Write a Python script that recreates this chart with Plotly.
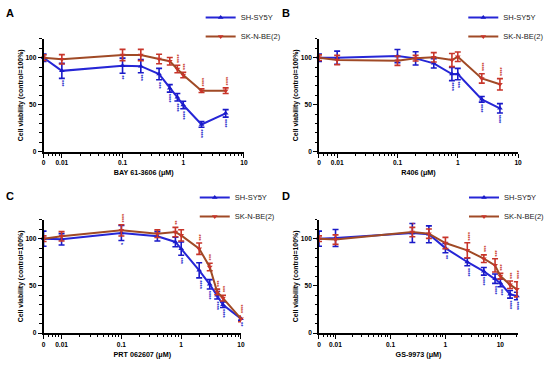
import math
import plotly.graph_objects as go

# ---------------- data ----------------
ZERO_POS = 0.005  # dose 0 is drawn at this position of the log axis

# Panel A : BAY 61-3606
A_doses = [0, 0.01, 0.1, 0.2, 0.4, 0.6, 0.8, 1, 2, 5]
A_sh_mean = [100, 86, 91.5, 91, 82.6, 67.4, 57.9, 49.7, 29, 40.8]
A_sh_sem = [4, 8, 8, 7, 6, 4, 4, 4, 3, 4]
A_be_mean = [100, 98.3, 102.9, 102.9, 98.6, 96.2, 88, 81.6, 64.9, 64.9]
A_be_sem = [3, 5, 6, 6, 5, 4, 4, 3, 2, 3]
A_sh_sig = ["", "***", "**", "***", "***", "****", "****", "****", "****", "****"]
A_be_sig = ["", "", "", "", "", "", "****", "***", "****", "****"]

# Panel B : R406
B_doses = [0, 0.01, 0.1, 0.2, 0.4, 0.8, 1, 2.5, 5]
B_sh_mean = [100, 100, 101.8, 99.3, 94, 82.6, 82.6, 55.7, 46.1]
B_sh_sem = [4, 7, 7, 7, 5, 7, 6, 3, 5]
B_be_mean = [100, 97.5, 96.8, 99.5, 100.4, 97.5, 101, 78, 71.7]
B_be_sem = [3, 5, 5, 3, 5, 7, 5, 5, 6]
B_sh_sig = ["", "", "", "", "", "****", "***", "****", "****"]
B_be_sig = ["", "", "", "", "", "", "", "****", "****"]

# Panel C : PRT 062607
C_doses = [0, 0.01, 0.1, 0.4, 0.8, 1, 2, 3, 4, 5, 10]
C_sh_mean = [100, 99.3, 106, 102.5, 96.5, 89.4, 66.4, 51.6, 40, 30, 15.2]
C_sh_sem = [8, 6, 8, 5, 5, 7, 8, 5, 4, 3, 2]
C_be_mean = [100, 102.5, 108.8, 105.3, 107, 103.5, 89.4, 70, 43.5, 37, 15]
C_be_sem = [3, 5, 6, 4, 5, 6, 6, 4, 3, 3, 3]
C_sh_sig = ["", "", "*", "", "", "***", "****", "****", "****", "****", "**"]
C_be_sig = ["", "", "****", "", "**", "", "***", "***", "***", "***", "****"]

# Panel D : GS-9973
D_doses = [0, 0.01, 0.25, 0.5, 1, 2.5, 5, 8, 10, 15, 20]
D_sh_mean = [100, 100.7, 106, 104.6, 90, 75.3, 65.4, 57.6, 53, 41, 39.2]
D_sh_sem = [8, 9, 10, 9, 5, 4, 4, 5, 4, 4, 4]
D_be_mean = [100, 99, 107, 105.3, 95.4, 87.6, 78.8, 71.7, 60.4, 51.2, 46.3]
D_be_sem = [3, 5, 5, 5, 6, 8, 4, 7, 3, 4, 8]
D_sh_sig = ["", "", "", "", "**", "****", "****", "****", "***", "****", "****"]
D_be_sig = ["", "", "*", "", "", "****", "***", "***", "***", "***", "****"]

SERIES = ["SH-SY5Y", "SK-N-BE(2)"]
X_TICK_VALS = [ZERO_POS, 0.01, 0.1, 1, 10]
X_TICK_TEXT = ["0", "0.01", "0.1", "1", "10"]
X_MINOR = [0.006, 0.007, 0.008, 0.009] + [k * 0.01 for k in range(2, 10)] + \
          [k * 0.1 for k in range(2, 10)] + [k * 1.0 for k in range(2, 10)] + [20]
Y_TICKS = [0, 50, 100]

# ---------------- styling ----------------
W, H = 550, 365
FONT = "Arial, Liberation Sans, sans-serif"
BLUE_LINE = "#2626d6"
BLUE_ERR = "#1a1ac8"
RED_LINE = "#a04a26"
RED_ERR = "#c8352a"


def px(x):
    return x / W


def py(y):
    return 1 - y / H


panels = [
    dict(letter="A", doses=A_doses, sh=(A_sh_mean, A_sh_sem, A_sh_sig), be=(A_be_mean, A_be_sem, A_be_sig),
         xtitle="BAY 61-3606 (μM)", xpx=(44.3, 248), ypx=(151.7, 38.9), xmax=10,
         letter_pos=(10, 13), legend_pos=(204, 3)),
    dict(letter="B", doses=B_doses, sh=(B_sh_mean, B_sh_sem, B_sh_sig), be=(B_be_mean, B_be_sem, B_be_sig),
         xtitle="R406 (μM)", xpx=(324.3, 526.7), ypx=(151.7, 38.9), xmax=10,
         letter_pos=(291, 13), legend_pos=(471, 3)),
    dict(letter="C", doses=C_doses, sh=(C_sh_mean, C_sh_sem, C_sh_sig), be=(C_be_mean, C_be_sem, C_be_sig),
         xtitle="PRT 062607 (μM)", xpx=(44.3, 245), ypx=(333, 219.8), xmax=10,
         letter_pos=(10, 196), legend_pos=(198, 183)),
    dict(letter="D", doses=D_doses, sh=(D_sh_mean, D_sh_sem, D_sh_sig), be=(D_be_mean, D_be_sem, D_be_sig),
         xtitle="GS-9973 (μM)", xpx=(324.3, 526.7), ypx=(333, 219.8), xmax=21,
         letter_pos=(291, 196), legend_pos=(472, 183)),
]

fig = go.Figure()
annotations = []
layout = {}

for i, p in enumerate(panels, start=1):
    xa = "x" if i == 1 else f"x{i}"
    ya = "y" if i == 1 else f"y{i}"
    leg = "legend" if i == 1 else f"legend{i}"
    xs = [ZERO_POS if d == 0 else d for d in p["doses"]]

    for name, (mean, sem, sig), lc, ec, sym, above in [
        (SERIES[0], p["sh"], BLUE_LINE, BLUE_ERR, "triangle-up", False),
        (SERIES[1], p["be"], RED_LINE, RED_ERR, "triangle-down", True),
    ]:
        fig.add_trace(go.Scatter(
            x=xs, y=mean, name=name, mode="lines+markers",
            xaxis=xa, yaxis=ya, legend=leg,
            line=dict(color=lc, width=2),
            marker=dict(symbol=sym, size=5, color=ec),
            error_y=dict(type="data", array=sem, visible=True, color=ec, thickness=1.6, width=3),
            cliponaxis=False,
        ))
        for xv, m, s, t in zip(xs, mean, sem, sig):
            if not t:
                continue
            annotations.append(dict(
                x=math.log10(xv), y=(m + s) if above else (m - s),
                xref=xa, yref=ya, text="<b>%s</b>" % t, textangle=90, showarrow=False,
                yanchor="bottom" if above else "top",
                yshift=1 if above else -1,
                font=dict(family=FONT, size=5.5, color=ec),
                borderpad=0,
            ))

    x0, x1 = p["xpx"]
    yb, yt = p["ypx"]
    axis_common = dict(
        showline=True, linecolor="black", linewidth=1.6, ticks="outside",
        ticklen=4, tickwidth=1.4, tickcolor="black", showgrid=False, zeroline=False,
        automargin=False,
        tickfont=dict(family=FONT, size=6.6, color="black"),
    )
    layout["xaxis" if i == 1 else f"xaxis{i}"] = dict(
        axis_common, type="log", domain=[px(x0), px(x1)],
        range=[math.log10(ZERO_POS), math.log10(p["xmax"])],
        anchor=ya, tickmode="array", tickvals=X_TICK_VALS,
        ticktext=["<b>%s</b>" % t for t in X_TICK_TEXT],
        minor=dict(tickmode="array", tickvals=X_MINOR, ticklen=2.5, tickwidth=1, tickcolor="black", ticks="outside"),
        title=dict(text="<b>%s</b>" % p["xtitle"], font=dict(family=FONT, size=7.2, color="black"), standoff=5),
    )
    layout["yaxis" if i == 1 else f"yaxis{i}"] = dict(
        axis_common, domain=[py(yb), py(yt)], range=[0, 120], anchor=xa,
        tickmode="array", tickvals=Y_TICKS, ticktext=["<b>%d</b>" % v for v in Y_TICKS],
        minor=dict(dtick=10, ticklen=2.5, tickwidth=1, tickcolor="black", ticks="outside"),
        title=dict(text="<b>Cell viability (control=100%)</b>", font=dict(family=FONT, size=6.9, color="black"), standoff=1),
    )
    lx, ly = p["legend_pos"]
    layout[leg] = dict(
        x=px(lx), y=py(ly), xanchor="left", yanchor="top",
        bgcolor="rgba(0,0,0,0)", borderwidth=0, tracegroupgap=0,
        font=dict(family=FONT, size=7.5, color="#222"),
    )
    annotations.append(dict(
        x=px(p["letter_pos"][0]), y=py(p["letter_pos"][1]), xref="paper", yref="paper",
        text="<b>%s</b>" % p["letter"], showarrow=False, xanchor="center", yanchor="middle",
        font=dict(family=FONT, size=11, color="black"),
    ))

fig.update_layout(
    width=W, height=H, margin=dict(l=0, r=0, t=0, b=0), autosize=False,
    paper_bgcolor="white", plot_bgcolor="white",
    showlegend=True, annotations=annotations, **layout,
)

fig.write_html(
    "out.html",
    config={"displayModeBar": False},
    post_script="document.body.style.margin='0';document.body.style.padding='0';",
)
